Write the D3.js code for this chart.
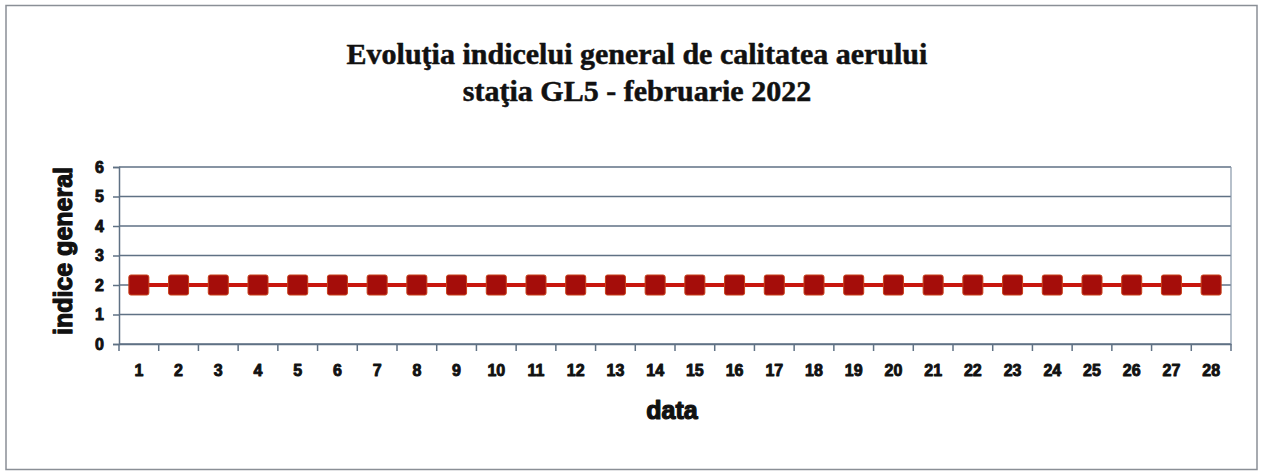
<!DOCTYPE html>
<html>
<head>
<meta charset="utf-8">
<script src="https://cdn.jsdelivr.net/npm/d3@7"></script>
<style>
  body { margin: 0; background: #fff; }
  svg { display: block; }
</style>
</head>
<body>
<svg width="1262" height="472"></svg>
<script>
// data
var days = d3.range(1, 29);   // 1 .. 28 februarie
var indexValues = [2,2,2,2,2,2,2,2,2,2,2,2,2,2,2,2,2,2,2,2,2,2,2,2,2,2,2,2];
var yTicks = [0, 1, 2, 3, 4, 5, 6];
var titleLines = ["Evoluţia indicelui general de calitatea aerului", "staţia GL5 - februarie 2022"];

var svg = d3.select("svg"),
    margin = {top: 167, right: 31, bottom: 128, left: 119},
    width = 1262 - margin.left - margin.right,
    height = 472 - margin.top - margin.bottom;

var heavy = function(sel, w) {
  sel.attr("fill", "#111").attr("stroke", "#111").attr("stroke-width", w).attr("stroke-linejoin", "round");
};

// outer frame
svg.append("rect")
   .attr("x", 6).attr("y", 5.5)
   .attr("width", 1251).attr("height", 464)
   .attr("fill", "none")
   .attr("stroke", "#8a8f96")
   .attr("stroke-width", 1.5);

// title
svg.append("g").selectAll("text")
   .data(titleLines)
   .enter().append("text")
   .attr("x", 637)
   .attr("y", function(d, i) { return 64 + i * 37; })
   .attr("text-anchor", "middle")
   .style("font", "bold 30px 'Liberation Serif', 'Times New Roman', serif")
   .call(heavy, 0.5)
   .text(function(d) { return d; });

var g = svg.append("g")
           .attr("transform", "translate(" + margin.left + "," + margin.top + ")");

var x = d3.scaleBand().domain(days).range([0, width]);
var y = d3.scaleLinear().domain([0, 6]).range([height, 0]);

// horizontal gridlines
g.append("g")
 .selectAll("line")
 .data(yTicks)
 .enter().append("line")
 .attr("x1", 0).attr("x2", width)
 .attr("y1", function(d) { return y(d); })
 .attr("y2", function(d) { return y(d); })
 .attr("stroke", "#5f7184")
 .attr("stroke-width", 1.5);

// right border of plot
g.append("line")
 .attr("x1", width).attr("x2", width)
 .attr("y1", 0).attr("y2", height)
 .attr("stroke", "#8797a8")
 .attr("stroke-width", 1.2);

// y axis
var yAxis = g.append("g")
 .call(d3.axisLeft(y).tickValues(yTicks).tickSize(6).tickPadding(9).tickFormat(d3.format("d")));
yAxis.select(".domain").attr("stroke", "#5f7184").attr("stroke-width", 1.5);
yAxis.selectAll(".tick line").attr("stroke", "#5f7184").attr("stroke-width", 1.5);
yAxis.selectAll("text")
     .style("font", "bold 16px 'Liberation Sans', Arial, sans-serif")
     .call(heavy, 0.9);

// x axis: ticks at band boundaries, labels centred in bands
var xAxis = g.append("g")
 .attr("transform", "translate(0," + height + ")")
 .call(d3.axisBottom(x).tickSize(0).tickPadding(21));
xAxis.select(".domain").attr("stroke", "#5f7184").attr("stroke-width", 1.5);
xAxis.selectAll("text")
     .style("font", "bold 16px 'Liberation Sans', Arial, sans-serif")
     .call(heavy, 0.9);
xAxis.selectAll(".sep")
     .data(days.concat([29]))
     .enter().append("line")
     .attr("class", "sep")
     .attr("x1", function(d) { return d <= 28 ? x(d) : width; })
     .attr("x2", function(d) { return d <= 28 ? x(d) : width; })
     .attr("y1", 0).attr("y2", 7)
     .attr("stroke", "#5f7184")
     .attr("stroke-width", 1.5);

// axis titles
svg.append("text")
   .attr("x", 672).attr("y", 419)
   .attr("text-anchor", "middle")
   .style("font", "bold 25px 'Liberation Sans', Arial, sans-serif")
   .call(heavy, 1.2)
   .text("data");

svg.append("text")
   .attr("transform", "translate(72,251) rotate(-90)")
   .attr("text-anchor", "middle")
   .style("font", "bold 25px 'Liberation Sans', Arial, sans-serif")
   .call(heavy, 1.2)
   .text("indice general");

// series
var pts = days.map(function(d, i) { return {day: d, v: indexValues[i]}; });

var line = d3.line()
  .x(function(d) { return x(d.day) + x.bandwidth() / 2; })
  .y(function(d) { return y(d.v); });

g.append("path")
 .datum(pts)
 .attr("d", line)
 .attr("fill", "none")
 .attr("stroke", "#c8160e")
 .attr("stroke-width", 4);

g.selectAll(".pt")
 .data(pts)
 .enter().append("rect")
 .attr("class", "pt")
 .attr("x", function(d) { return x(d.day) + x.bandwidth() / 2 - 10; })
 .attr("y", function(d) { return y(d.v) - 10; })
 .attr("width", 20).attr("height", 20)
 .attr("rx", 2)
 .attr("fill", "#a50d0a")
 .attr("stroke", "#c8401a")
 .attr("stroke-width", 1);
</script>
</body>
</html>
